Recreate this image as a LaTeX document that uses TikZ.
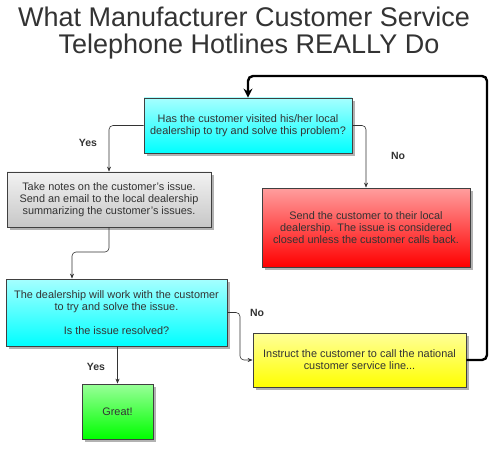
\documentclass[tikz,border=0pt]{standalone}
\usepackage{fontspec}
\setmainfont{Liberation Sans}
\usetikzlibrary{shadows,arrows.meta}
\definecolor{txt}{HTML}{333333}
\tikzset{
  x=1pt, y=-1pt,
  box/.style={draw=black!75, line width=0.8pt, align=center, text=txt,
    font=\fontsize{10.9}{11.8}\selectfont, inner sep=2pt,
    drop shadow={shadow xshift=3pt, shadow yshift=-3pt, fill=black!30, opacity=1}},
  cyanbox/.style={box, top color=cyan!35!white, bottom color=cyan},
  graybox/.style={box, top color=black!5, bottom color=black!22},
  redbox/.style={box, top color=red!38!white, bottom color=red},
  yellowbox/.style={box, top color=yellow!40!white, bottom color=yellow},
  greenbox/.style={box, top color=green!40!white, bottom color=green},
  conn/.style={draw=black!80, line width=0.6pt, rounded corners=4pt, -{Stealth[length=5pt,width=4pt]}},
  thickconn/.style={draw=black, line width=2.4pt, rounded corners=5pt, -{Stealth[length=9pt,width=9pt]}},
  lbl/.style={font=\fontsize{10.5}{11}\selectfont\bfseries, text=txt},
  ttl/.style={font=\fontsize{27}{29}\selectfont, text=txt}
}
\begin{document}
\begin{tikzpicture}
\useasboundingbox (0,0) rectangle (500,449);
\node[ttl] (t1) at (244,17) {What Manufacturer Customer Service};
\node[ttl] (t2) at (249,47) {Telephone Hotlines REALLY Do};

\node[cyanbox, minimum width=208pt, minimum height=55pt] (b1) at (248,125.5)
  {Has the customer visited his/her local\\dealership to try and solve this problem?};
\node[graybox, minimum width=204pt, minimum height=55pt] (b2) at (109,199.5)
  {Take notes on the customer's issue.\\Send an email to the local dealership\\summarizing the customer's issues.};
\node[redbox, minimum width=208pt, minimum height=79pt] (b3) at (366,227.5)
  {Send the customer to their local\\dealership. The issue is considered\\closed unless the customer calls back.};
\node[cyanbox, minimum width=221pt, minimum height=67pt] (b4) at (116.5,312.5)
  {The dealership will work with the customer\\to try and solve the issue.\\[11.8pt]Is the issue resolved?};
\node[yellowbox, minimum width=213pt, minimum height=54pt] (b5) at (359.5,360)
  {Instruct the customer to call the national\\customer service line...};
\node[greenbox, minimum width=71pt, minimum height=55pt] (b6) at (117.5,411.5)
  {Great!};

\coordinate (c1) at (72,252);
\coordinate (c2) at (240,312.5);
\coordinate (c3) at (487,360);
\coordinate (c4) at (248,76);

\draw[conn] (b1.west) -| (b2.north);
\draw[conn] (b1.east) -| (b3.north);
\draw[conn] (b2.south) |- (c1) -- (b4.north -| c1);
\draw[conn] (b4.east) -- (c2) |- (b5.west);
\draw[conn] (b4.south -| b6.north) -- (b6.north);
\draw[thickconn] (b5.east) -- (c3) |- (c4) -- (b1.north);

\node[lbl] (l1) at (88,143) {Yes};
\node[lbl] (l2) at (398,156) {No};
\node[lbl] (l3) at (257,313) {No};
\node[lbl] (l4) at (96,367) {Yes};
\end{tikzpicture}
\end{document}
